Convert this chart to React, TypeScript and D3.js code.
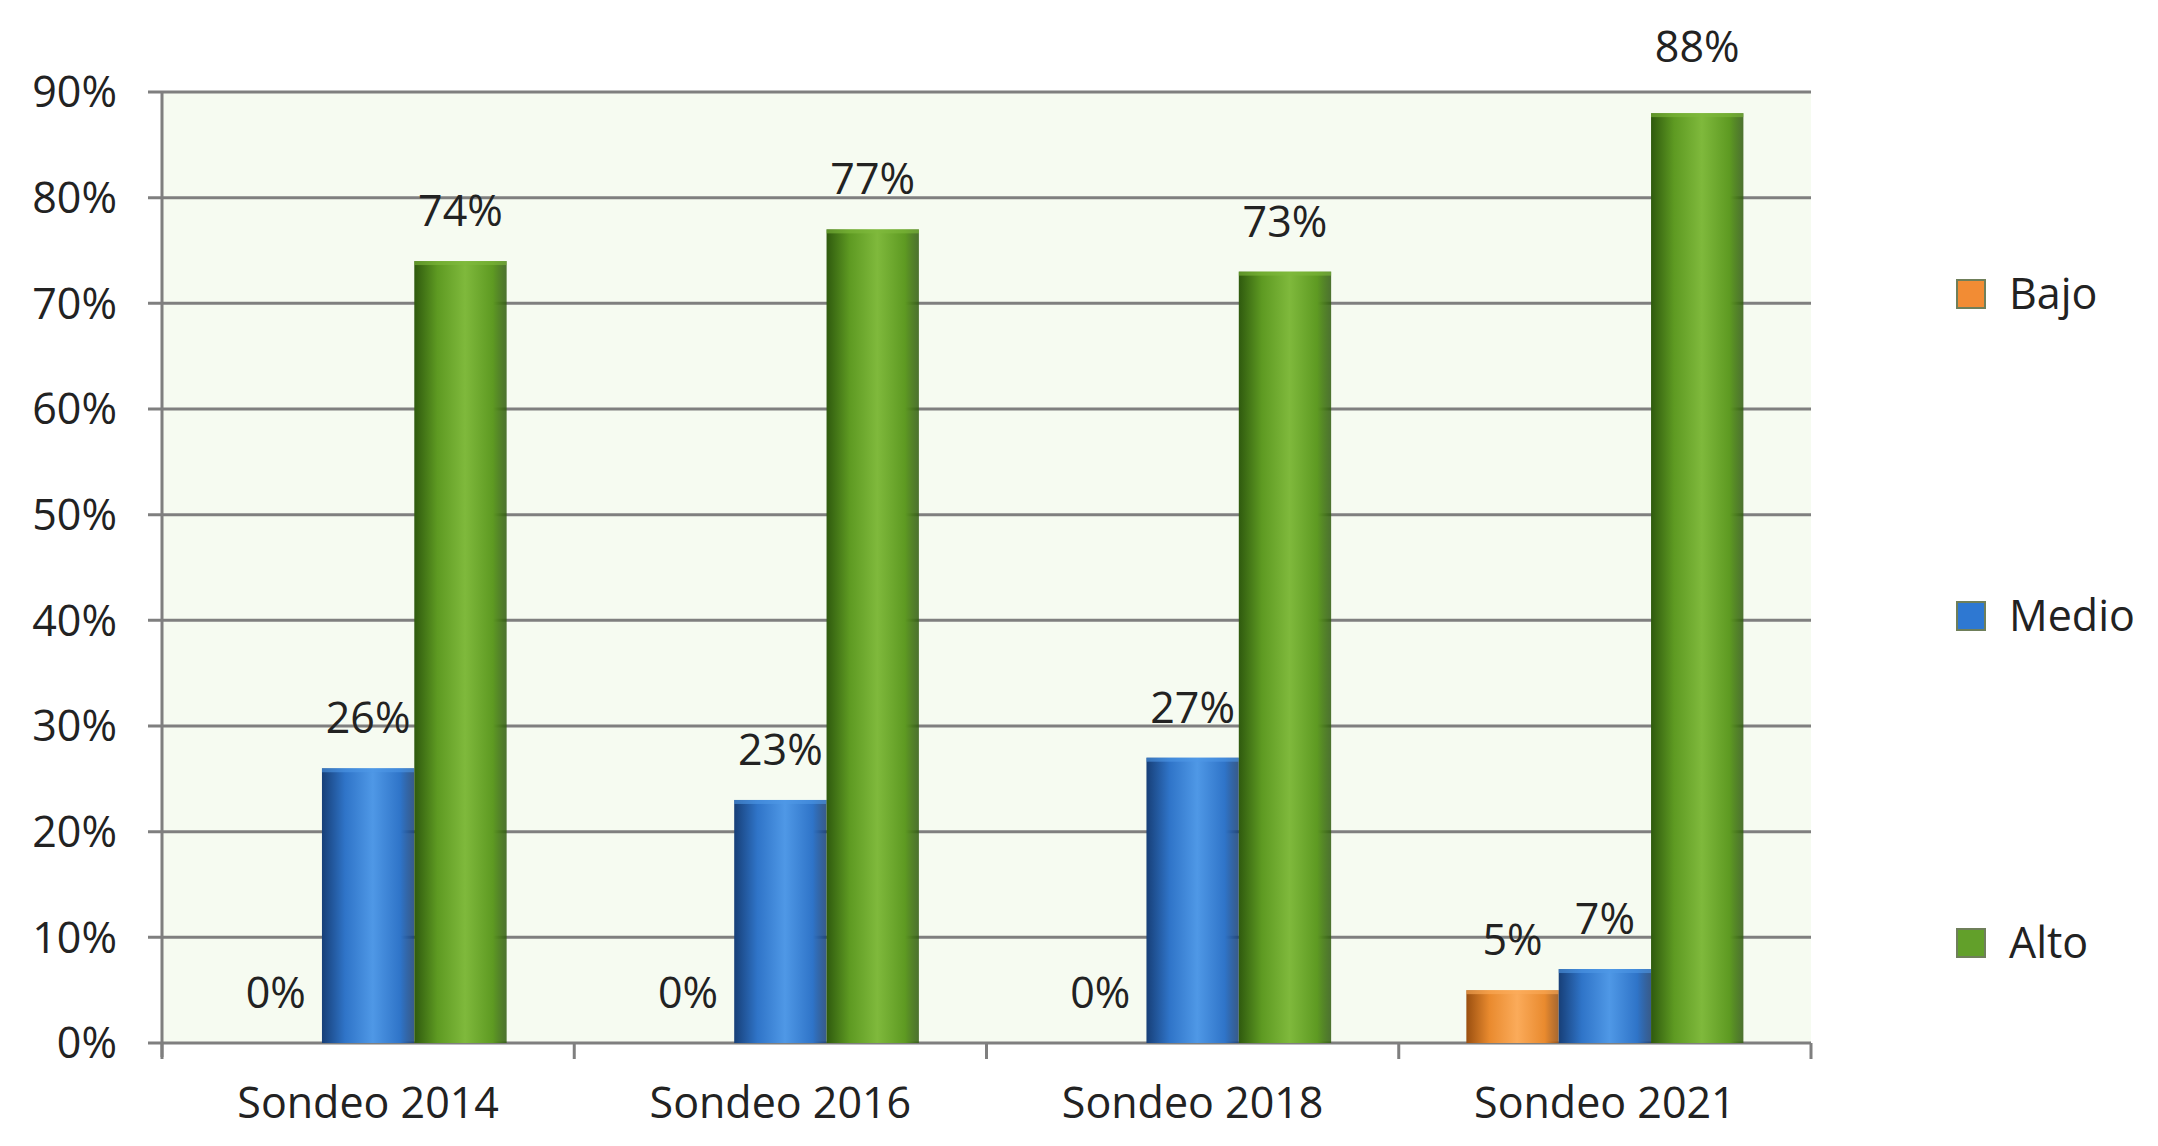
import React from "react";
import * as d3 from "d3";

const categories = ["Sondeo 2014", "Sondeo 2016", "Sondeo 2018", "Sondeo 2021"];
const seriesNames = ["Bajo", "Medio", "Alto"];
const bajo = [0, 0, 0, 5];
const medio = [26, 23, 27, 7];
const alto = [74, 77, 73, 88];
const yTicks = [0, 10, 20, 30, 40, 50, 60, 70, 80, 90];

const W = 2158;
const H = 1146;
const M = { left: 162, right: 1811, top: 92, bottom: 1043 };
const FONT = "'Open Sans', 'Liberation Sans', sans-serif";

const palette = [
  { dark: "#9a4f10", mid: "#e98a2e", light: "#fbab5a", legend: "#f28c34" },
  { dark: "#173f78", mid: "#2f74c8", light: "#4f98e6", legend: "#2e78d2" },
  { dark: "#2f5a0e", mid: "#5e9a22", light: "#7fb93c", legend: "#62a02a" },
];

export default function App() {
  const values = [bajo, medio, alto];
  const x0 = d3.scaleBand<string>().domain(categories).range([M.left, M.right]).paddingInner(0).paddingOuter(0);
  const groupW = x0.bandwidth() * 0.672;
  const x1 = d3.scaleBand<string>().domain(seriesNames).range([0, groupW]).padding(0);
  const y = d3.scaleLinear().domain([0, 90]).range([M.bottom, M.top]);
  const boundaries = [...categories.map((c) => x0(c) as number), M.right];
  const legendY = [294, 616, 943];

  return (
    <svg width={W} height={H} style={{ position: "absolute", left: 0, top: 0, background: "#fff" }}>
      <defs>
        {palette.map((p, i) => (
          <linearGradient key={i} id={`g${i}`} x1="0" x2="1" y1="0" y2="0">
            <stop offset="0" stopColor={p.dark} />
            <stop offset="0.25" stopColor={p.mid} />
            <stop offset="0.55" stopColor={p.light} />
            <stop offset="0.85" stopColor={p.mid} />
            <stop offset="1" stopColor={p.dark} stopOpacity={0.85} />
          </linearGradient>
        ))}
      </defs>
      <rect x={M.left} y={M.top} width={M.right - M.left} height={M.bottom - M.top} fill="#f6fbf1" />
      {yTicks.map((t) => (
        <g key={t}>
          <line x1={M.left - 14} x2={M.right} y1={y(t)} y2={y(t)} stroke="#7f7f7f" strokeWidth={3} />
          <text x={117} y={y(t)} dy="0.36em" textAnchor="end" fontFamily={FONT} fontSize={43} fill="#222">
            {t}%
          </text>
        </g>
      ))}
      <line x1={M.left} x2={M.left} y1={M.top} y2={M.bottom + 14} stroke="#7f7f7f" strokeWidth={3} />
      {boundaries.map((b, i) => (
        <line key={i} x1={b} x2={b} y1={M.bottom} y2={M.bottom + 16} stroke="#7f7f7f" strokeWidth={3} />
      ))}
      {categories.map((c, ci) => {
        const gx = (x0(c) as number) + (x0.bandwidth() - groupW) / 2;
        return (
          <g key={c}>
            {seriesNames.map((s, si) => {
              const v = values[si][ci];
              const bx = gx + (x1(s) as number);
              const bw = x1.bandwidth();
              const top = y(v);
              const ly = top - 35 < M.top ? M.top - 30 : top - 35;
              return (
                <g key={s}>
                  {v > 0 && (
                    <>
                      <rect x={bx} y={top} width={bw} height={M.bottom - top} fill={`url(#g${si})`} />
                      <rect x={bx} y={top} width={bw} height={4} fill={palette[si].light} opacity={0.6} />
                    </>
                  )}
                  <text x={bx + bw / 2} y={ly} textAnchor="middle" fontFamily={FONT} fontSize={43} fill="#222">
                    {v}%
                  </text>
                </g>
              );
            })}
            <text x={(x0(c) as number) + x0.bandwidth() / 2} y={1118} textAnchor="middle" fontFamily={FONT} fontSize={43} fill="#222">
              {c}
            </text>
          </g>
        );
      })}
      {seriesNames.map((s, i) => (
        <g key={s}>
          <rect x={1957} y={legendY[i] - 14} width={28} height={28} fill={palette[i].legend} stroke="#6f7f5a" strokeWidth={2} />
          <text x={2009} y={legendY[i]} dy="0.36em" fontFamily={FONT} fontSize={43} fill="#222">
            {s}
          </text>
        </g>
      ))}
    </svg>
  );
}
